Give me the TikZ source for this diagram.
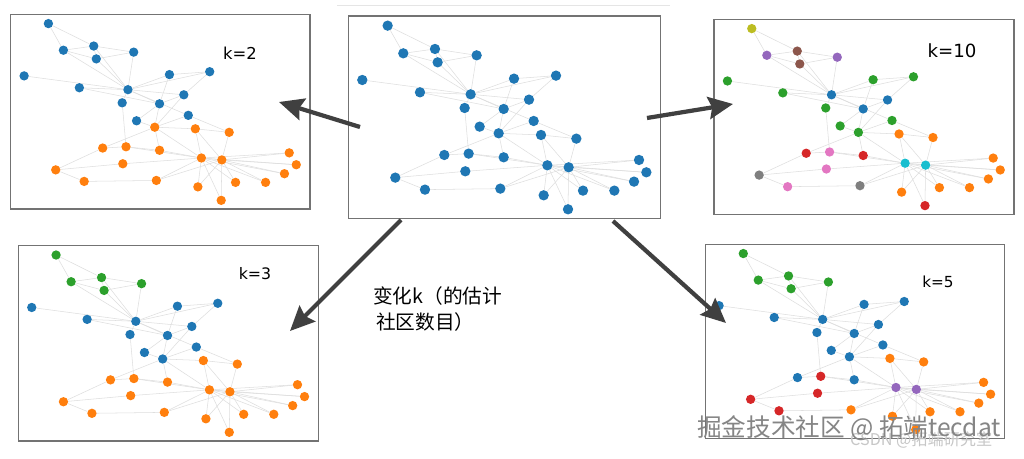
\documentclass[tikz,border=0pt]{standalone}
\usepackage{fontspec}
\setmainfont{DejaVu Sans}
\newfontfamily\cjk{Noto Sans CJK SC}
\usetikzlibrary{arrows.meta,backgrounds}
\definecolor{tB}{HTML}{1F77B4}
\definecolor{tO}{HTML}{FF7F0E}
\definecolor{tG}{HTML}{2CA02C}
\definecolor{tR}{HTML}{D62728}
\definecolor{tP}{HTML}{9467BD}
\definecolor{tBr}{HTML}{8C564B}
\definecolor{tPk}{HTML}{E377C2}
\definecolor{tGy}{HTML}{7F7F7F}
\definecolor{tY}{HTML}{BCBD22}
\definecolor{tC}{HTML}{17BECF}
\definecolor{arrgray}{HTML}{404040}
\tikzset{
  gdot/.style={circle,inner sep=0pt,minimum size=#1,draw=none},
  glink/.style={draw=black!13,line width=0.45pt},
  pbox/.style={draw=black!55,line width=0.9pt},
  bigarrow/.style={draw=arrgray,line width=3.6pt,-{Stealth[length=21pt,width=19pt,inset=3pt]}},
  klabel/.style={inner sep=0pt,text=black},
}
\def\nodelist{1/143/77,2/190/160,3/285/147,4/293/187,5/410/166,6/67/240,7/240/277,8/392/283,9/522/236,10/648/227,11/374/324,12/491/327,13/567/299,14/581/363,15/419/380,16/476/400,17/603/405,18/709/416,19/313/465,20/386/461,21/491/472,22/622/496,23/686/502,24/897/480,25/919/517,26/882/545,27/166/533,28/376/514,29/255/569,30/481/566,31/611/586,32/729/572,33/823/572,34/684/628}
\def\edgelist{1/2,1/3,2/3,2/4,3/5,4/5,3/4,2/8,3/8,4/8,5/8,6/8,7/8,7/12,8/9,8/10,9/10,8/11,8/12,8/13,8/14,9/12,10/13,11/20,12/13,12/16,13/16,14/18,14/16,15/12,15/16,16/17,16/21,16/22,17/18,17/22,17/23,18/23,19/20,19/16,20/21,20/22,21/22,22/23,22/24,22/25,22/26,22/31,22/34,22/30,23/24,23/25,23/26,23/32,23/33,23/34,23/31,27/19,27/28,27/29,28/22,29/30,30/23,32/22,33/22}
\newcommand\graphpanel[7]{%
  \draw[pbox] (#2,#3) rectangle ({#2+#4},{#3+#5});
  \foreach \i/\x/\y in \nodelist {
    \coordinate (#1-\i) at ({#2+((\x-25)/937)*#4},{#3+((\y-48)/607)*#5});
  }
  \foreach \c [count=\i] in {#6} {
    \node[gdot=#7,fill=\c] (#1\i) at (#1-\i) {};
  }
  \begin{pgfonlayer}{background}
    \foreach \a/\b in \edgelist {\draw[glink] (#1\a) -- (#1\b);}
  \end{pgfonlayer}
}
\begin{document}
\begin{tikzpicture}[x=0.03cm,y=-0.03cm]
\useasboundingbox (0,0) rectangle (1024,459);
\begin{pgfonlayer}{background}
  \fill[white] (0,0) rectangle (1024,459);
\end{pgfonlayer}
\draw[black!10,line width=0.6pt] (337,5) -- (670,5);
% centre
\graphpanel{c}{348.3}{16}{312.4}{202.3}{tB,tB,tB,tB,tB,tB,tB,tB,tB,tB,tB,tB,tB,tB,tB,tB,tB,tB,tB,tB,tB,tB,tB,tB,tB,tB,tB,tB,tB,tB,tB,tB,tB,tB}{0.31cm}
% k=2
\graphpanel{a}{10.7}{14.3}{299.3}{194.7}{tB,tB,tB,tB,tB,tB,tB,tB,tB,tB,tB,tB,tB,tB,tB,tO,tO,tO,tO,tO,tO,tO,tO,tO,tO,tO,tO,tO,tO,tO,tO,tO,tO,tO}{0.28cm}
% k=10
\graphpanel{d}{714}{19.3}{300}{195}{tY,tP,tBr,tBr,tP,tG,tG,tB,tG,tG,tG,tB,tB,tG,tG,tG,tO,tO,tR,tPk,tR,tC,tC,tO,tO,tO,tGy,tPk,tPk,tGy,tO,tO,tO,tR}{0.28cm}
% k=3
\graphpanel{b}{18.3}{245.7}{300}{195.3}{tG,tG,tG,tG,tG,tB,tB,tB,tB,tB,tB,tB,tB,tB,tB,tB,tO,tO,tO,tO,tO,tO,tO,tO,tO,tO,tO,tO,tO,tO,tO,tO,tO,tO}{0.28cm}
% k=5
\graphpanel{e}{705.7}{244.3}{298.6}{194}{tG,tG,tG,tG,tG,tB,tB,tB,tB,tB,tB,tB,tB,tB,tB,tB,tO,tO,tB,tR,tB,tP,tP,tO,tO,tO,tR,tR,tR,tO,tO,tO,tO,tO}{0.28cm}
% labels
\node[klabel,font=\fontsize{14}{16}\selectfont] (l2) at (240,53) {k=2};
\node[klabel,font=\fontsize{15.5}{18}\selectfont] (l10) at (952,51) {k=10};
\node[klabel,font=\fontsize{13.5}{16}\selectfont] (l3) at (255,274) {k=3};
\node[klabel,font=\fontsize{13}{16}\selectfont] (l5) at (938,282) {k=5};
\node[klabel,anchor=west,font=\cjk\fontsize{16.8}{20}\selectfont] (t1) at (373,296) {变化k（的估计};
\node[klabel,anchor=west,font=\cjk\fontsize{16.8}{20}\selectfont] (t2) at (376,322) {社区数目）};
% arrows
\coordinate (s2) at (360,127);  \coordinate (h2) at (279,102);
\coordinate (s10) at (647,118); \coordinate (h10) at (733,104);
\coordinate (s3) at (401,220);  \coordinate (h3) at (290,331);
\coordinate (s5) at (613,221);  \coordinate (h5) at (726,323);
\draw[bigarrow] (s2) -- (h2);
\draw[bigarrow] (s10) -- (h10);
\draw[bigarrow] (s3) -- (h3);
\draw[bigarrow] (s5) -- (h5);
% watermark
\node[klabel,anchor=west,text=black!22,font=\cjk\fontsize{13.8}{16}\selectfont] (w2) at (850,440) {CSDN @拓端研究室};
\node[klabel,anchor=west,text=black!48,font=\cjk\fontsize{21}{24}\selectfont] (w1) at (697,428) {掘金技术社区 @ 拓端tecdat};
\end{tikzpicture}
\end{document}
